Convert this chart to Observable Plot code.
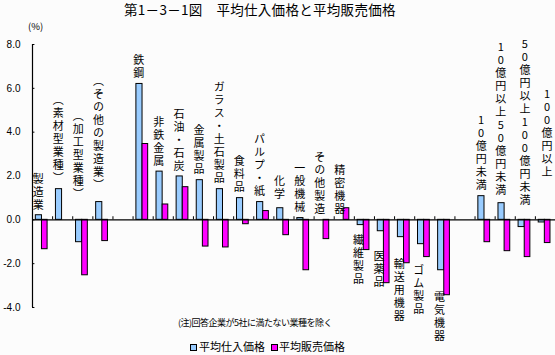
<!DOCTYPE html>
<html><head><meta charset="utf-8">
<script src="https://cdn.jsdelivr.net/npm/d3@7"></script>
<script src="https://cdn.jsdelivr.net/npm/@observablehq/plot@0.6"></script>
<style>
body{margin:0;background:#fcfcfc;}
#wrap{position:relative;width:555px;height:355px;font-family:"Noto Sans CJK JP",sans-serif;color:#000;overflow:hidden;}
.t{position:absolute;white-space:nowrap;line-height:1;}
.sw{position:absolute;width:5px;height:5px;border:1px solid #000;}
svg{position:absolute;left:0;top:0;}
text.vl{writing-mode:vertical-rl;text-orientation:upright;letter-spacing:2px;}
</style></head><body><div id="wrap"></div>
<script>
// ---- data ----
const categories = ["製造業","（素材型業種）","（加工型業種）","（その他の製造業）","",
  "鉄鋼","非鉄金属","石油・石炭","金属製品","ガラス・土石製品","食料品","パルプ・紙","化学",
  "一般機械","その他製造","精密機器","繊維製品","医薬品","輸送用機器","ゴム製品","電気機器","",
  "10億円未満","10億円以上50億円未満","50億円以上100億円未満","100億円以上"];
const purchase = [0.21,1.40,-1.02,0.81,null,6.20,2.20,1.98,1.81,1.40,0.99,0.81,0.53,0.08,0,0,
  -0.24,-0.52,-0.79,-1.11,-2.30,null,1.08,0.76,-0.33,-0.12];
const selling = [-1.34,0,-2.53,-0.97,null,3.46,0.70,1.49,-1.22,-1.26,-0.20,0.40,-0.70,-2.30,-0.88,0.53,
  -1.38,-2.89,-1.98,-1.70,-3.44,null,-1.02,-1.43,-1.70,-1.06];
const seriesNames = ["平均仕入価格","平均販売価格"];
const yTicks = [-4,-2,0,2,4,6,8];

// ---- layout (label placement, px) ----
const labelLayout = {
  0:{gap:6}, 2:{gap:22}, 3:{gap:13}, 12:{gap:10}, 23:{gap:9}, 24:{gap:16,dx:4}, 25:{gap:44,dx:6},
  16:{below:true,gap:6,dx:-1.5}, 17:{below:true,gap:16,dx:-1}, 18:{below:true,gap:18,dx:-1},
  19:{below:true,gap:17,dx:-1.5}, 20:{below:true,gap:18,dx:-1}, 22:{dx:0.5}
};
const colors = ["#99ccff","#ff00ff"];

const rows = categories.map((c,i)=>({i, c, buy: purchase[i], sell: selling[i]}));
const vtext = s => s.replace(/（/g,"︵").replace(/）/g,"︶");
const font = '"Noto Sans CJK JP", sans-serif';
const labelSet = new Set(categories.filter(c=>c).map(vtext));

const labelMarks = rows.filter(d=>d.c).map(d=>{
  const L = labelLayout[d.i] || {};
  const gap = L.gap ?? 7;
  const below = !!L.below;
  return Plot.text([d], {
    x: r => r.i + 0.28,
    y: r => below ? Math.min(r.buy,0) : Math.max(r.buy,0),
    text: r => vtext(r.c),
    textAnchor: below ? "start" : "end",
    dy: below ? gap : -gap,
    dx: L.dx ?? 0,
    fontSize: 11, fill: "#000", fontFamily: font
  });
});

const chart = Plot.plot({
  width: 555, height: 355,
  marginTop: 44, marginBottom: 48, marginLeft: 32, marginRight: 0,
  style: {background: "transparent", fontFamily: font},
  x: {domain: [0, categories.length], axis: null},
  y: {domain: [-4, 8], axis: null},
  marks: [
    Plot.rect(rows.filter(d=>d.buy!=null), {x1: d=>d.i+0.165, x2: d=>d.i+0.47, y1: 0, y2: "buy",
      fill: colors[0], stroke: "#000", strokeWidth: 1}),
    Plot.rect(rows.filter(d=>d.sell!=null), {x1: d=>d.i+0.47, x2: d=>d.i+0.75, y1: 0, y2: "sell",
      fill: colors[1], stroke: "#000", strokeWidth: 1}),
    Plot.ruleY([0], {x1: 0, x2: categories.length, stroke: "#000", strokeWidth: 1.2}),
    Plot.ruleX(d3.range(1, categories.length), {y1: 0, y2: 0.14, stroke: "#000"}),
    Plot.ruleX([0], {y1: -4, y2: 8, stroke: "#000", strokeWidth: 1.2}),
    Plot.ruleY(yTicks, {x1: 0, x2: 0.12, stroke: "#000"}),
    Plot.axisY(yTicks, {tickSize: 0, tickPadding: 12, tickFormat: d => d.toFixed(1), fontSize: 10,
      fontFamily: "Liberation Sans, sans-serif"}),
    ...labelMarks
  ]
});

d3.select(chart).selectAll("text").filter(function(){ return labelSet.has(this.textContent); })
  .attr("dy", null)
  .attr("class", "vl")
  .attr("writing-mode", "vertical-rl")
  .style("writing-mode", "vertical-rl")
  .style("text-orientation", "upright")
  .style("letter-spacing", "2px");

const wrap = document.getElementById("wrap");
wrap.appendChild(chart);
function addText(txt, css){ const e=document.createElement("div"); e.className="t"; e.textContent=txt; Object.assign(e.style, css); wrap.appendChild(e); return e; }
addText("第1－3－1図　平均仕入価格と平均販売価格", {left:"124px", top:"3px", fontSize:"13.5px", letterSpacing:"0.3px"});
addText("(%)", {left:"28px", top:"22px", fontSize:"9.5px"});
addText("(注)回答企業が5社に満たない業種を除く", {left:"178px", top:"318px", fontSize:"9px", letterSpacing:"-0.5px"});
const sw1=document.createElement("div"); sw1.className="sw"; Object.assign(sw1.style,{left:"190px",top:"344px",background:colors[0]}); wrap.appendChild(sw1);
addText(seriesNames[0], {left:"199px", top:"341px", fontSize:"11px"});
const sw2=document.createElement("div"); sw2.className="sw"; Object.assign(sw2.style,{left:"271px",top:"344px",background:colors[1]}); wrap.appendChild(sw2);
addText(seriesNames[1], {left:"279px", top:"341px", fontSize:"11px"});
</script></body></html>
